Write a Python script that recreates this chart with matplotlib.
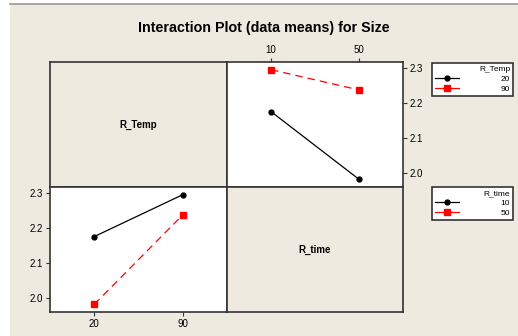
import matplotlib
matplotlib.use("Agg")
import matplotlib.pyplot as plt
from matplotlib.lines import Line2D
from matplotlib.patches import Rectangle

# donnees (moyennes)
temp_levels = ["20", "90"]
time_levels = ["10", "50"]
# moyennes Size[temp][time]
size_t20 = [2.176, 1.982]   # R_Temp=20 pour R_time 10, 50
size_t90 = [2.296, 2.238]   # R_Temp=90 pour R_time 10, 50
yticks = [2.0, 2.1, 2.2, 2.3]

BG = "#EEEAE0"
EDGE = "#333333"
W, H = 518, 336

plt.rcParams["font.family"] = ["Liberation Sans", "DejaVu Sans"]

fig = plt.figure(figsize=(W / 100, H / 100), dpi=100)
fig.patch.set_facecolor("white")

# cadre beige de fond
bg_ax = fig.add_axes([0, 0, 1, 1])
bg_ax.set_xlim(0, W)
bg_ax.set_ylim(H, 0)
bg_ax.axis("off")
bg_ax.add_patch(Rectangle((10, 4), W - 10, H - 4, facecolor=BG, edgecolor="none"))
bg_ax.plot([10, W], [4, 4], color="#999999", lw=1.2)


def px_box(x0, y0, x1, y1):
    return [x0 / W, 1 - y1 / H, (x1 - x0) / W, (y1 - y0) / H]


left, mid_x, right = 50, 227, 403
top, mid_y, bottom = 62, 187, 312

ax_tl = fig.add_axes(px_box(left, top, mid_x, mid_y))
ax_tr = fig.add_axes(px_box(mid_x, top, right, mid_y))
ax_bl = fig.add_axes(px_box(left, mid_y, mid_x, bottom))
ax_br = fig.add_axes(px_box(mid_x, mid_y, right, bottom))

for ax in (ax_tl, ax_tr, ax_bl, ax_br):
    for s in ax.spines.values():
        s.set_color(EDGE)
        s.set_linewidth(1.2)
    ax.set_ylim(1.96, 2.318)
    ax.set_xlim(-0.5, 1.5)

for ax, name in ((ax_tl, "R_Temp"), (ax_br, "R_time")):
    ax.set_facecolor(BG)
    ax.set_xticks([])
    ax.set_yticks([])
    ax.text(0.5, 0.5, name, transform=ax.transAxes, ha="center", va="center",
            fontsize=7, fontweight="bold")

black_kw = dict(color="black", lw=0.9, marker="o", ms=3.5)
red_kw = dict(color="red", lw=0.9, ls=(0, (6, 4)), marker="s", ms=4.5)

# en haut a droite : x = R_time, courbes par R_Temp
x = range(len(time_levels))
ax_tr.set_facecolor("white")
ax_tr.plot(x, size_t20, **black_kw)
ax_tr.plot(x, size_t90, **red_kw)
ax_tr.set_xticks(list(x))
ax_tr.set_xticklabels(time_levels)
ax_tr.set_yticks(yticks)
ax_tr.xaxis.tick_top()
ax_tr.yaxis.tick_right()
ax_tr.tick_params(labelsize=7, length=3, color=EDGE, pad=2)

# en bas a gauche : x = R_Temp, courbes par R_time
time10 = [size_t20[0], size_t90[0]]
time50 = [size_t20[1], size_t90[1]]
ax_bl.set_facecolor("white")
ax_bl.plot(x, time10, **black_kw)
ax_bl.plot(x, time50, **red_kw)
ax_bl.set_xticks(list(x))
ax_bl.set_xticklabels(temp_levels)
ax_bl.set_yticks(yticks)
ax_bl.tick_params(labelsize=7, length=3, color=EDGE, pad=2)

fig.text(264 / W, 1 - 28 / H, "Interaction Plot (data means) for Size",
         ha="center", va="center", fontsize=10.3, fontweight="bold")


def add_legend(title, labels, y_top):
    handles = [Line2D([], [], **black_kw), Line2D([], [], color="red", lw=0.9,
                                                  marker="s", ms=4.5)]
    leg = fig.legend(handles, labels, title=title, loc="upper left",
                     bbox_to_anchor=(432 / W, 1 - y_top / H), fontsize=6,
                     title_fontsize=6, frameon=True, fancybox=False,
                     edgecolor=EDGE, facecolor="white", framealpha=1,
                     handlelength=2.9, handletextpad=5.0, borderpad=0.35,
                     labelspacing=0.25, alignment="right", borderaxespad=0)
    leg.get_frame().set_linewidth(1.2)
    return leg


add_legend("R_Temp", temp_levels, 63)
add_legend("R_time", time_levels, 187)

fig.savefig("out.png", dpi=100, facecolor=fig.get_facecolor())
